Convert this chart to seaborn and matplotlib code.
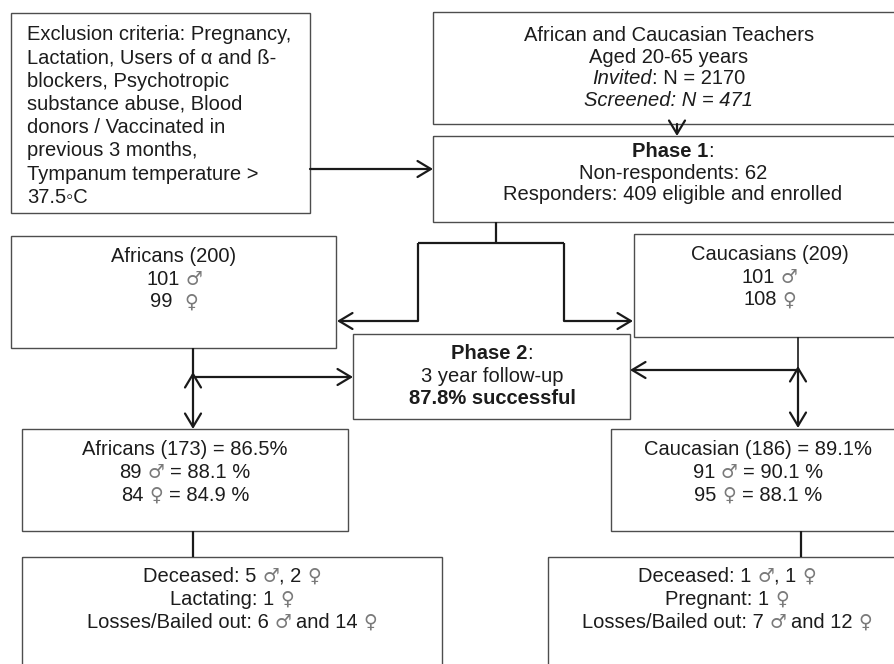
import matplotlib
matplotlib.use("Agg")
import matplotlib.pyplot as plt
import seaborn as sns
from matplotlib.patches import Rectangle

# --- flow chart content -------------------------------------------------
exclusion_lines = ["Exclusion criteria: Pregnancy,", "Lactation, Users of α and ß-",
                   "blockers, Psychotropic", "substance abuse, Blood",
                   "donors / Vaccinated in", "previous 3 months,",
                   "Tympanum temperature >", "37.5◦C"]
age_range = "20-65"
invited_n = 2170
screened_n = 471
non_respondents = 62
responders = 409

group_names = ["Africans", "Caucasians"]
baseline_n = [200, 209]
baseline_male = [101, 101]
baseline_female = [99, 108]

followup_names = ["Africans", "Caucasian"]
followup_n = [173, 186]
followup_pct = [86.5, 89.1]
followup_male = [89, 91]
followup_male_pct = [88.1, 90.1]
followup_female = [84, 95]
followup_female_pct = [84.9, 88.1]
followup_years = 3
overall_success = 87.8

deceased_male = [5, 1]
deceased_female = [2, 1]
other_reason = ["Lactating", "Pregnant"]
other_female = [1, 1]
losses_male = [6, 7]
losses_female = [14, 12]

MALE, FEMALE = "♂", "♀"

sns.set_theme(style="white")
plt.rcParams["font.family"] = ["Liberation Sans", "DejaVu Sans"]

W, H = 894, 664
fig = plt.figure(figsize=(W / 100, H / 100), dpi=100)
ax = fig.add_axes([0, 0, 1, 1])
ax.set_xlim(0, W)
ax.set_ylim(H, 0)
ax.axis("off")
renderer = fig.canvas.get_renderer()

FS = 14.5
TXT = "#1c1c1c"
SYM = "#7a7a7a"
EDGE = "#4d4d4d"
LINE = "#1a1a1a"


def box(x0, y0, x1, y1):
    ax.add_patch(Rectangle((x0, y0), x1 - x0, y1 - y0, fill=False,
                           edgecolor=EDGE, lw=1.0, clip_on=True))


def style(kw):
    out = {"color": TXT, "fontsize": FS}
    out.update(kw)
    return out


def adv(s, kw):
    # advance width of a string, spaces included
    a = ax.text(0, 0, "|" + s + "|", **style(kw))
    b = ax.text(0, 0, "||", **style(kw))
    w = a.get_window_extent(renderer).width - b.get_window_extent(renderer).width
    a.remove()
    b.remove()
    return w


def segs_of(line):
    # split plain text so that gender signs get their own grey style
    out, cur = [], ""
    for ch in line:
        if ch in (MALE, FEMALE):
            if cur:
                out.append((cur, {}))
            out.append((ch, {"color": SYM, "family": ["DejaVu Sans"], "fontsize": FS - 1}))
            cur = ""
        else:
            cur += ch
    if cur:
        out.append((cur, {}))
    return out


def draw_line(x, y, segs, ha="center"):
    widths = [adv(s, kw) for s, kw in segs]
    start = x - sum(widths) / 2 if ha == "center" else x
    for (s, kw), w in zip(segs, widths):
        lead = len(s) - len(s.lstrip(" "))
        off = adv(" " * lead, kw) if lead else 0
        if s.strip():
            ax.text(start + off, y, s.strip(), ha="left", va="baseline", **style(kw))
        start += w


def line(x0, y0, x1, y1, lw=1.6):
    ax.plot([x0, x1], [y0, y1], color=LINE, lw=lw, solid_capstyle="butt")


def arrow(x0, y0, x1, y1, style="->"):
    ax.annotate("", xy=(x1, y1), xytext=(x0, y0),
                arrowprops=dict(arrowstyle=style + ",head_length=0.6,head_width=0.36",
                                color=LINE, lw=1.6, shrinkA=0, shrinkB=0,
                                mutation_scale=16))


# --- boxes ----------------------------------------------------------------
box(11, 13, 310, 213)      # exclusion
box(433, 12, 905, 124)     # teachers
box(433, 136, 905, 222)    # phase 1
box(11, 236, 336, 348)     # africans baseline
box(634, 234, 905, 337)    # caucasians baseline
box(353, 334, 630, 419)    # phase 2
box(22, 429, 348, 531)     # africans follow-up
box(611, 429, 905, 531)    # caucasian follow-up
box(22, 557, 442, 690)     # africans losses
box(548, 557, 905, 690)    # caucasian losses

# --- texts ----------------------------------------------------------------
for i, t in enumerate(exclusion_lines):
    draw_line(27, 40 + 23.3 * i, [(t, {})], ha="left")

teach = [
    [("African and Caucasian Teachers", {})],
    [(f"Aged {age_range} years", {})],
    [("Invited", {"style": "italic"}), (f": N = {invited_n}", {})],
    [(f"Screened: N = {screened_n}", {"style": "italic"})],
]
for i, s in enumerate(teach):
    draw_line(669, 41 + 21.7 * i, s)

ph1 = [
    [("Phase 1", {"weight": "bold"}), (":", {})],
    [(f"Non-respondents: {non_respondents}", {})],
    [(f"Responders: {responders} eligible and enrolled", {})],
]
for i, s in enumerate(ph1):
    draw_line(673, 157 + 21.6 * i, s)

base_cx = [174, 769.5]
base_y = [262, 260]
for g in range(2):
    rows = [f"{group_names[g]} ({baseline_n[g]})",
            f"{baseline_male[g]} {MALE}",
            f"{baseline_female[g]}{'  ' if g == 0 else ' '}{FEMALE}"]
    for i, r in enumerate(rows):
        draw_line(base_cx[g], base_y[g] + 22.7 * i, segs_of(r))

ph2 = [
    [("Phase 2", {"weight": "bold"}), (":", {})],
    [(f"{followup_years} year follow-up", {})],
    [(f"{overall_success}% successful", {"weight": "bold"})],
]
for i, s in enumerate(ph2):
    draw_line(492, 359 + 22.5 * i, s)

fu_cx = [185, 758]
for g in range(2):
    rows = [f"{followup_names[g]} ({followup_n[g]}) = {followup_pct[g]}%",
            f"{followup_male[g]} {MALE} = {followup_male_pct[g]} %",
            f"{followup_female[g]} {FEMALE} = {followup_female_pct[g]} %"]
    for i, r in enumerate(rows):
        draw_line(fu_cx[g], 455 + 23 * i, segs_of(r))

loss_cx = [232, 727]
for g in range(2):
    rows = [f"Deceased: {deceased_male[g]} {MALE}, {deceased_female[g]} {FEMALE}",
            f"{other_reason[g]}: {other_female[g]} {FEMALE}",
            f"Losses/Bailed out: {losses_male[g]} {MALE} and {losses_female[g]} {FEMALE}"]
    for i, r in enumerate(rows):
        draw_line(loss_cx[g], 582 + 23 * i, segs_of(r))

# --- connectors -----------------------------------------------------------
arrow(310, 169, 433, 169)
arrow(677, 124, 677, 136)

line(496, 222, 496, 243)
line(418, 243, 564, 243)
line(418, 243, 418, 321)
arrow(418, 321, 337, 321)
line(564, 243, 564, 321)
arrow(564, 321, 633, 321)

line(193, 348, 193, 377)
arrow(193, 377, 353, 377)
arrow(193, 372, 193, 429, style="<->")

line(798, 337, 798, 370, lw=1.2)
arrow(798, 370, 630, 370)
arrow(798, 366, 798, 428, style="<->")

line(193, 531, 193, 557)
line(801, 531, 801, 557)

fig.savefig("out.png", dpi=100)
